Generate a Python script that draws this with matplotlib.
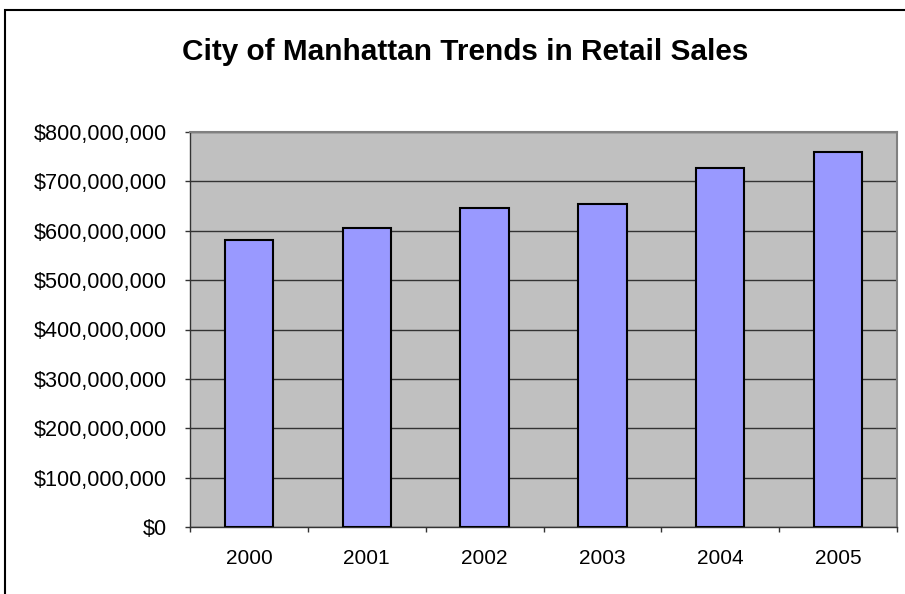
import numpy as np
import matplotlib
matplotlib.use('Agg')
import matplotlib.pyplot as plt
from matplotlib.ticker import FuncFormatter, MultipleLocator
from matplotlib.patches import Rectangle

plt.rcParams['font.family'] = ['Liberation Sans', 'DejaVu Sans']

# data
years = ['2000', '2001', '2002', '2003', '2004', '2005']
sales = [582e6, 606e6, 646e6, 654e6, 727e6, 760e6]

fig = plt.figure(figsize=(9.05, 5.94), dpi=100)

# outer chart frame (left and top edges visible)
fig.patches.append(Rectangle((5/905, -0.1), 1.2, 1 - 10/594 + 0.1, transform=fig.transFigure,
                             fill=False, edgecolor='black', linewidth=1.5))

ax = fig.add_axes([190/905, 1 - 527/594, 707/905, 395/594])
ax.set_facecolor('#c0c0c0')

x = np.arange(len(years))
ax.bar(x, sales, width=0.41, color='#9999ff', edgecolor='black', linewidth=1.5, zorder=3)

ax.set_xlim(-0.5, len(years) - 0.5)
ax.set_ylim(0, 800e6)
ax.yaxis.set_major_locator(MultipleLocator(100e6))
ax.yaxis.set_major_formatter(FuncFormatter(lambda v, p: '${:,.0f}'.format(v)))
ax.grid(axis='y', color='#333333', linewidth=1, zorder=1)

ax.set_xticks(x)
ax.set_xticklabels(years)
ax.set_xticks(np.arange(-0.5, len(years)), minor=True)
ax.tick_params(axis='x', which='major', length=0, pad=16, labelsize=15)
ax.tick_params(axis='x', which='minor', length=3.6, color='#333333', width=1)
ax.tick_params(axis='y', length=3.6, color='#333333', width=1, labelsize=15.6, pad=13)

for s in ['top', 'right']:
    ax.spines[s].set_color('#808080')
    ax.spines[s].set_linewidth(1.5)
for s in ['left', 'bottom']:
    ax.spines[s].set_color('#333333')
    ax.spines[s].set_linewidth(1)

fig.text(465/905, 1 - 59.5/594, 'City of Manhattan Trends in Retail Sales',
         ha='center', va='baseline', fontsize=21.4, fontweight='bold')

fig.savefig('out.png', dpi=100)
